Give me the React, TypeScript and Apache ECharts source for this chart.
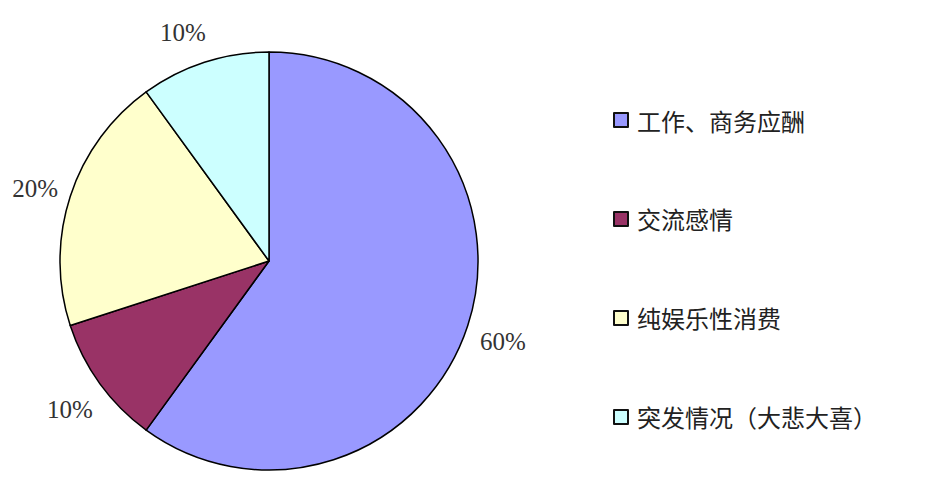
import React, { useEffect, useRef } from "react";
import * as echarts from "echarts";

const categories = ["工作、商务应酬", "交流感情", "纯娱乐性消费", "突发情况（大悲大喜）"];
const values = [60, 10, 20, 10];
const colors = ["#9999ff", "#993366", "#ffffcc", "#ccffff"];

export default function App() {
  const chartRef = useRef<HTMLDivElement>(null);

  useEffect(() => {
    if (!chartRef.current) return;
    document.body.style.margin = "0";

    const chart = echarts.init(chartRef.current, null, { renderer: "svg" });

    const pieData = categories.map((name, i) => ({
      name,
      value: values[i],
      itemStyle: { color: colors[i] },
    }));

    // the top label sits a little left of its slice's middle in the original
    const labelData = categories.map((name, i) => ({
      name,
      value: values[i],
      label: i === 3 ? { offset: [-10, 5] } : undefined,
    }));

    const option: echarts.EChartsOption = {
      animation: false,
      backgroundColor: "#ffffff",
      legend: {
        orient: "vertical",
        left: 608,
        top: 103,
        itemWidth: 14,
        itemHeight: 14,
        itemGap: 75,
        icon: "rect",
        data: categories,
        itemStyle: { borderColor: "#111111", borderWidth: 2 },
        textStyle: {
          fontFamily: "Noto Sans CJK SC",
          fontSize: 24,
          color: "#222222",
          padding: [0, 0, 0, 4],
        },
      },
      series: [
        {
          name: "main",
          type: "pie",
          center: [269, 261],
          radius: 209,
          startAngle: 90,
          clockwise: true,
          avoidLabelOverlap: false,
          label: { show: false },
          labelLine: { show: false },
          itemStyle: { borderColor: "#000000", borderWidth: 1.5 },
          emphasis: { disabled: true },
          data: pieData,
        },
        {
          name: "labels",
          type: "pie",
          center: [269, 261],
          radius: [228, 258],
          startAngle: 90,
          clockwise: true,
          silent: true,
          avoidLabelOverlap: false,
          itemStyle: { color: "rgba(0,0,0,0)" },
          label: {
            show: true,
            position: "inside",
            formatter: "{d}%",
            fontFamily: "Liberation Serif",
            fontSize: 25,
            color: "#333333",
            offset: [0, 4],
          },
          labelLine: { show: false },
          emphasis: { disabled: true },
          data: labelData,
        },
      ],
    };

    chart.setOption(option);

    return () => {
      chart.dispose();
    };
  }, []);

  return <div ref={chartRef} style={{ width: 933, height: 492 }} />;
}
